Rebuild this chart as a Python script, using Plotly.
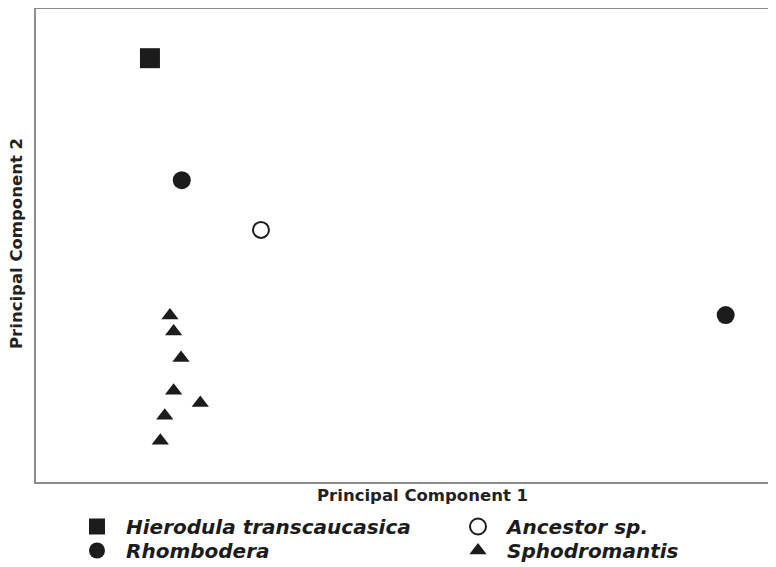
import plotly.graph_objects as go

# Data (axis units 0-100)
hierodula_x = [15.4]
hierodula_y = [89.6]
rhombodera_x = [19.7, 93.2]
rhombodera_y = [63.8, 35.3]
ancestor_x = [30.4]
ancestor_y = [53.3]
sphodro_x = [18.1, 18.6, 19.6, 18.6, 22.2, 17.4, 16.8]
sphodro_y = [35.2, 31.8, 26.2, 19.3, 16.7, 14.0, 8.7]

INK = "#1c1c1c"
LEG_FONT = dict(family="DejaVu Sans", size=20, color=INK, weight="bold", style="italic")

fig = go.Figure()
fig.add_trace(go.Scatter(x=hierodula_x, y=hierodula_y, mode="markers", name="Hierodula transcaucasica",
                         marker=dict(symbol="square", size=20, color=INK), legend="legend"))
fig.add_trace(go.Scatter(x=rhombodera_x, y=rhombodera_y, mode="markers", name="Rhombodera",
                         marker=dict(symbol="circle", size=18, color=INK), legend="legend2"))
fig.add_trace(go.Scatter(x=ancestor_x, y=ancestor_y, mode="markers", name="Ancestor sp.",
                         marker=dict(symbol="circle", size=16, color="white", line=dict(color=INK, width=2)),
                         legend="legend3"))
fig.add_trace(go.Scatter(x=sphodro_x, y=sphodro_y, mode="markers", name="Sphodromantis",
                         marker=dict(symbol="triangle-up", size=15, color=INK), legend="legend4"))
fig.update_traces(showlegend=True)

axis_common = dict(showgrid=False, zeroline=False, showticklabels=False, ticks="",
                   showline=True, linecolor="#8c8c8c", linewidth=2)


def leg(px, py):
    return dict(xref="container", yref="container", x=px / 776, y=1 - py / 567,
                xanchor="left", yanchor="top", orientation="v", itemwidth=48,
                font=LEG_FONT, bgcolor="rgba(0,0,0,0)")


fig.update_layout(
    width=776, height=567,
    showlegend=True,
    margin=dict(l=28, r=0, t=1, b=93, autoexpand=False),
    paper_bgcolor="white", plot_bgcolor="white",
    xaxis=dict(range=[0, 101.08], mirror=True, **axis_common),
    yaxis=dict(range=[0, 100], mirror=False, **axis_common),
    legend=leg(60, 499),
    legend2=leg(60, 523),
    legend3=leg(441, 499),
    legend4=leg(441, 523),
    annotations=[
        dict(text="<b>Principal Component 1</b>", xref="paper", yref="paper",
             x=(423 - 36) / 748, y=(482 - 495) / 473, xanchor="center", yanchor="middle",
             showarrow=False, font=dict(family="DejaVu Sans", size=16.5, color="#222222")),
        dict(text="<b>Principal Component 2</b>", xref="paper", yref="paper",
             x=(17 - 36) / 748, y=(482 - 244) / 473, xanchor="center", yanchor="middle",
             textangle=-90, showarrow=False,
             font=dict(family="DejaVu Sans", size=16.5, color="#222222")),
    ],
)

fig.write_html("out.html")
